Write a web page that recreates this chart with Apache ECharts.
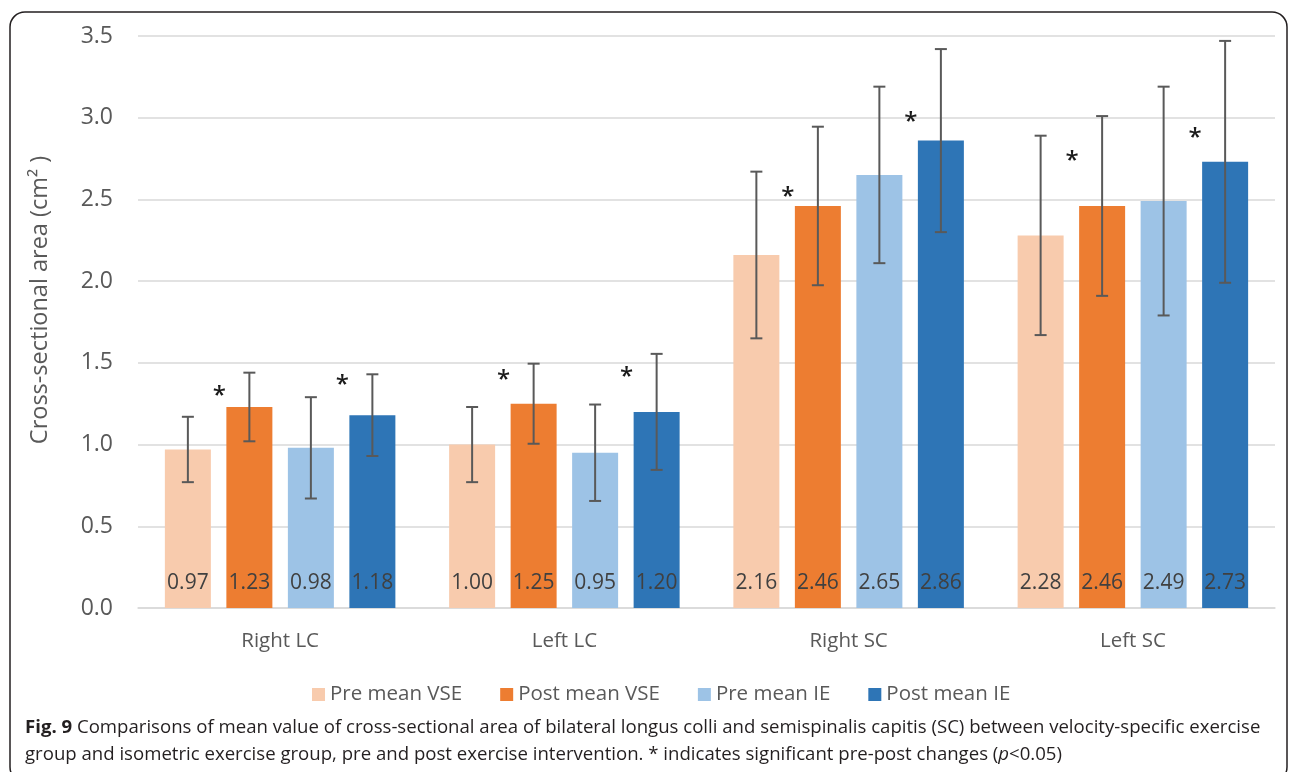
<!DOCTYPE html>
<html>
<head>
<meta charset="utf-8">
<title>Cross-sectional area of longus colli and semispinalis capitis</title>
<script src="https://cdn.jsdelivr.net/npm/echarts@6/dist/echarts.min.js"></script>
<style>
  html, body { margin: 0; padding: 0; background: #ffffff; }
  #chart { width: 1290px; height: 772px; }
</style>
</head>
<body>
<div id="chart"></div>
<script>
// Muscle groups on the x axis
const categories = ['Right LC', 'Left LC', 'Right SC', 'Left SC'];
const seriesNames = ['Pre mean VSE', 'Post mean VSE', 'Pre mean IE', 'Post mean IE'];

// Mean cross-sectional area (cm²)
const preVSE  = [0.97, 1.00, 2.16, 2.28];
const postVSE = [1.23, 1.25, 2.46, 2.46];
const preIE   = [0.98, 0.95, 2.65, 2.49];
const postIE  = [1.18, 1.20, 2.86, 2.73];

// Standard deviations (error bars)
const sdPreVSE  = [0.20, 0.23, 0.51, 0.61];
const sdPostVSE = [0.21, 0.245, 0.485, 0.55];
const sdPreIE   = [0.31, 0.295, 0.54, 0.70];
const sdPostIE  = [0.25, 0.355, 0.56, 0.74];

// Height at which the significance asterisk sits above each post bar
const starPostVSE = [1.33, 1.43, 2.55, 2.77];
const starPostIE  = [1.40, 1.45, 3.01, 2.91];

// Y axis ticks
const yMin = 0, yMax = 3.5, yStep = 0.5;

const colors = ['#F8CBAD', '#ED7D31', '#9DC3E6', '#2E75B6'];
const FONT = '"Open Sans", "Noto Sans", sans-serif';
const BAR_WIDTH = 46;
const BAR_GAP = 0.337;
const BAR_STEP = BAR_WIDTH * (1 + BAR_GAP);

const means = [preVSE, postVSE, preIE, postIE];
const sds = [sdPreVSE, sdPostVSE, sdPreIE, sdPostIE];

// x offset of bar i within its category
function barOffset(i) { return (i - (means.length - 1) / 2) * BAR_STEP; }

function errorBarRenderer(barIndex) {
  return function (params, api) {
    const cat = api.value(0);
    const mean = api.value(1);
    const sd = api.value(2);
    const x = api.coord([cat, mean])[0] + barOffset(barIndex);
    const yHi = api.coord([cat, mean + sd])[1];
    const yLo = api.coord([cat, mean - sd])[1];
    const cap = 6;
    const st = { stroke: '#595959', lineWidth: 2 };
    return {
      type: 'group',
      children: [
        { type: 'line', shape: { x1: x, y1: yHi, x2: x, y2: yLo }, style: st },
        { type: 'line', shape: { x1: x - cap, y1: yHi, x2: x + cap, y2: yHi }, style: st },
        { type: 'line', shape: { x1: x - cap, y1: yLo, x2: x + cap, y2: yLo }, style: st }
      ]
    };
  };
}

// '*' glyph sits high in its em box, so nudge it down to centre it on the value
function starRenderer(barIndex) {
  return function (params, api) {
    const cat = api.value(0);
    const pt = api.coord([cat, api.value(1)]);
    return {
      type: 'text',
      x: pt[0] + barOffset(barIndex) - 30,
      y: pt[1] + 6,
      style: {
        text: '*',
        fill: '#1a1a1a',
        font: '600 24px ' + FONT,
        align: 'center',
        verticalAlign: 'middle'
      }
    };
  };
}

const barSeries = means.map(function (vals, i) {
  return {
    name: seriesNames[i],
    type: 'bar',
    barWidth: BAR_WIDTH,
    barGap: (BAR_GAP * 100) + '%',
    itemStyle: { color: colors[i] },
    label: {
      show: true,
      position: 'insideBottom',
      distance: 14,
      color: '#404040',
      fontFamily: FONT,
      fontSize: 21,
      formatter: function (p) { return p.value.toFixed(2); }
    },
    data: vals,
    z: 2
  };
});

const errorSeries = means.map(function (vals, i) {
  return {
    type: 'custom',
    name: seriesNames[i] + ' SD',
    renderItem: errorBarRenderer(i),
    data: vals.map(function (v, k) { return [k, v, sds[i][k]]; }),
    z: 5,
    silent: true
  };
});

const starSeries = [
  { idx: 1, vals: starPostVSE },
  { idx: 3, vals: starPostIE }
].map(function (s) {
  return {
    type: 'custom',
    name: seriesNames[s.idx] + ' sig',
    renderItem: starRenderer(s.idx),
    data: s.vals.map(function (v, k) { return [k, v]; }),
    z: 6,
    silent: true
  };
});

const chart = echarts.init(document.getElementById('chart'), null, { renderer: 'canvas' });

chart.setOption({
  animation: false,
  backgroundColor: '#ffffff',
  textStyle: { fontFamily: FONT },
  grid: { left: 138, right: 15, top: 36, bottom: 164, containLabel: false },
  legend: {
    data: seriesNames,
    left: 307,
    top: 679,
    icon: 'rect',
    itemWidth: 13,
    itemHeight: 13,
    itemGap: 38,
    textStyle: { color: '#595959', fontSize: 20.5, fontFamily: FONT }
  },
  xAxis: {
    type: 'category',
    data: categories,
    axisLine: { show: true, lineStyle: { color: '#d9d9d9', width: 1.5 } },
    axisTick: { show: false },
    axisLabel: { color: '#595959', fontSize: 20.5, fontFamily: FONT, margin: 23 }
  },
  yAxis: {
    type: 'value',
    min: yMin,
    max: yMax,
    interval: yStep,
    axisLine: { show: false },
    axisTick: { show: false },
    splitLine: { lineStyle: { color: '#d9d9d9', width: 1.5 } },
    axisLabel: {
      color: '#595959', fontSize: 23, fontFamily: FONT, margin: 25,
      formatter: function (v) { return v.toFixed(1); }
    }
  },
  series: barSeries.concat(errorSeries, starSeries),
  graphic: [
    {
      type: 'rect',
      shape: { x: 10, y: 12, width: 1277, height: 770, r: 15 },
      style: { fill: 'none', stroke: '#231f20', lineWidth: 1.5 },
      silent: true
    },
    {
      type: 'text',
      x: 40, y: 300,
      rotation: Math.PI / 2,
      style: {
        text: 'Cross-sectional area (cm² )',
        fill: '#595959',
        font: '23.5px ' + FONT,
        align: 'center',
        verticalAlign: 'middle'
      }
    },
    {
      type: 'text',
      x: 25, y: 728,
      style: {
        text: '{b|Fig. 9} Comparisons of mean value of cross-sectional area of bilateral longus colli and semispinalis capitis (SC) between velocity-specific exercise',
        fill: '#231f20',
        font: '18.6px ' + FONT,
        verticalAlign: 'middle',
        rich: { b: { fontWeight: 'bold', fontSize: 18.6, fontFamily: FONT, fill: '#231f20' } }
      }
    },
    {
      type: 'text',
      x: 25, y: 755,
      style: {
        text: 'group and isometric exercise group, pre and post exercise intervention. * indicates significant pre-post changes ({i|p}<0.05)',
        fill: '#231f20',
        font: '18.6px ' + FONT,
        verticalAlign: 'middle',
        rich: { i: { fontStyle: 'italic', fontSize: 18.6, fontFamily: FONT, fill: '#231f20' } }
      }
    }
  ]
});
</script>
</body>
</html>
